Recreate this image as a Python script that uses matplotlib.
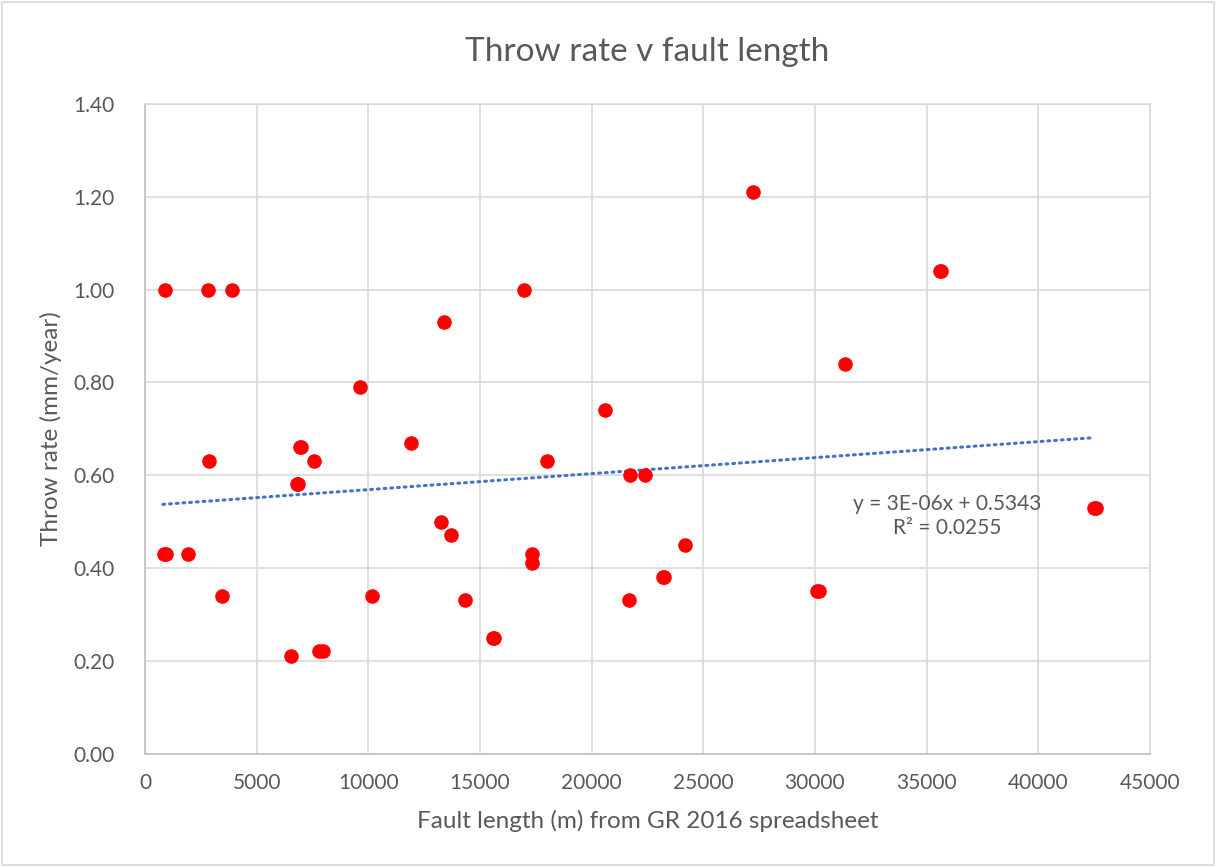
import numpy as np
import matplotlib.pyplot as plt
from matplotlib.patches import Rectangle

# Fault length (m) and throw rate (mm/year)
fault_length = [850, 950, 1930, 2810, 2880, 3470, 3900, 6530, 6790, 6850,
                6940, 7000, 7560, 7780, 7960, 9630, 10160, 11910, 13250, 13380,
                13690, 14310, 15600, 15650, 16980, 17340, 17340, 18010, 20580, 21660,
                21730, 22400, 23200, 23250, 24190, 27230, 30100, 30160, 31340, 35580,
                35650, 42500, 42580, 900]
throw_rate = [0.43, 0.43, 0.43, 1.00, 0.63, 0.34, 1.00, 0.21, 0.58, 0.58,
              0.66, 0.66, 0.63, 0.22, 0.22, 0.79, 0.34, 0.67, 0.50, 0.93,
              0.47, 0.33, 0.25, 0.25, 1.00, 0.43, 0.41, 0.63, 0.74, 0.33,
              0.60, 0.60, 0.38, 0.38, 0.45, 1.21, 0.35, 0.35, 0.84, 1.04,
              1.04, 0.53, 0.53, 1.00]

# Trendline as drawn by the spreadsheet (labelled y = 3E-06x + 0.5343)
trend_slope = 3.45e-6
trend_intercept = 0.5343
trend_label = 'y = 3E-06x + 0.5343\nR² = 0.0255'

x = np.array(fault_length)
y = np.array(throw_rate)

plt.rcParams['font.family'] = ['Lato', 'DejaVu Sans']
txt = '#595959'
grid = '#D9D9D9'

fig = plt.figure(figsize=(12.16, 8.67), dpi=100)
fig.patches.append(Rectangle((0.002, 0.002), 0.996, 0.996, transform=fig.transFigure,
                             fill=False, edgecolor=grid, linewidth=1.2))
ax = fig.add_axes([0.1192, 0.1309, 0.8265, 0.7491])

ax.scatter(x, y, s=110, color='#FF0000', zorder=3, linewidths=0)

xt = np.array([x.min() - 50, x.max() - 250])
ax.plot(xt, trend_slope * xt + trend_intercept, color='#4472C4', linestyle=(0, (0.6, 1.6)),
        linewidth=2.2, dash_capstyle='round', zorder=2)

ax.text(35900, 0.512, trend_label, ha='center', va='center',
        fontsize=15, color=txt, linespacing=1.3)

ax.set_xlim(0, 45000)
ax.set_ylim(0, 1.4)
ax.set_xticks(np.arange(0, 45001, 5000))
ax.set_yticks(np.arange(0, 1.41, 0.2))
ax.set_yticklabels([f'{v:.2f}' for v in np.arange(0, 1.41, 0.2)])
ax.grid(True, color=grid, linewidth=1.2)
ax.set_axisbelow(True)
ax.tick_params(length=0, labelsize=15, labelcolor=txt, pad=14)
ax.tick_params(axis='y', pad=22)
for s in ax.spines.values():
    s.set_color(grid)
    s.set_linewidth(1.2)
ax.spines['bottom'].set_color('#BFBFBF')
ax.spines['left'].set_color('#BFBFBF')

ax.set_xlabel('Fault length (m) from GR 2016 spreadsheet', fontsize=17.5, color=txt, labelpad=12)
ax.set_ylabel('Throw rate (mm/year)', fontsize=17.5, color=txt, labelpad=8)
ax.set_title('Throw rate v fault length', fontsize=24, color=txt, pad=31)

plt.savefig('out.png', dpi=100)
